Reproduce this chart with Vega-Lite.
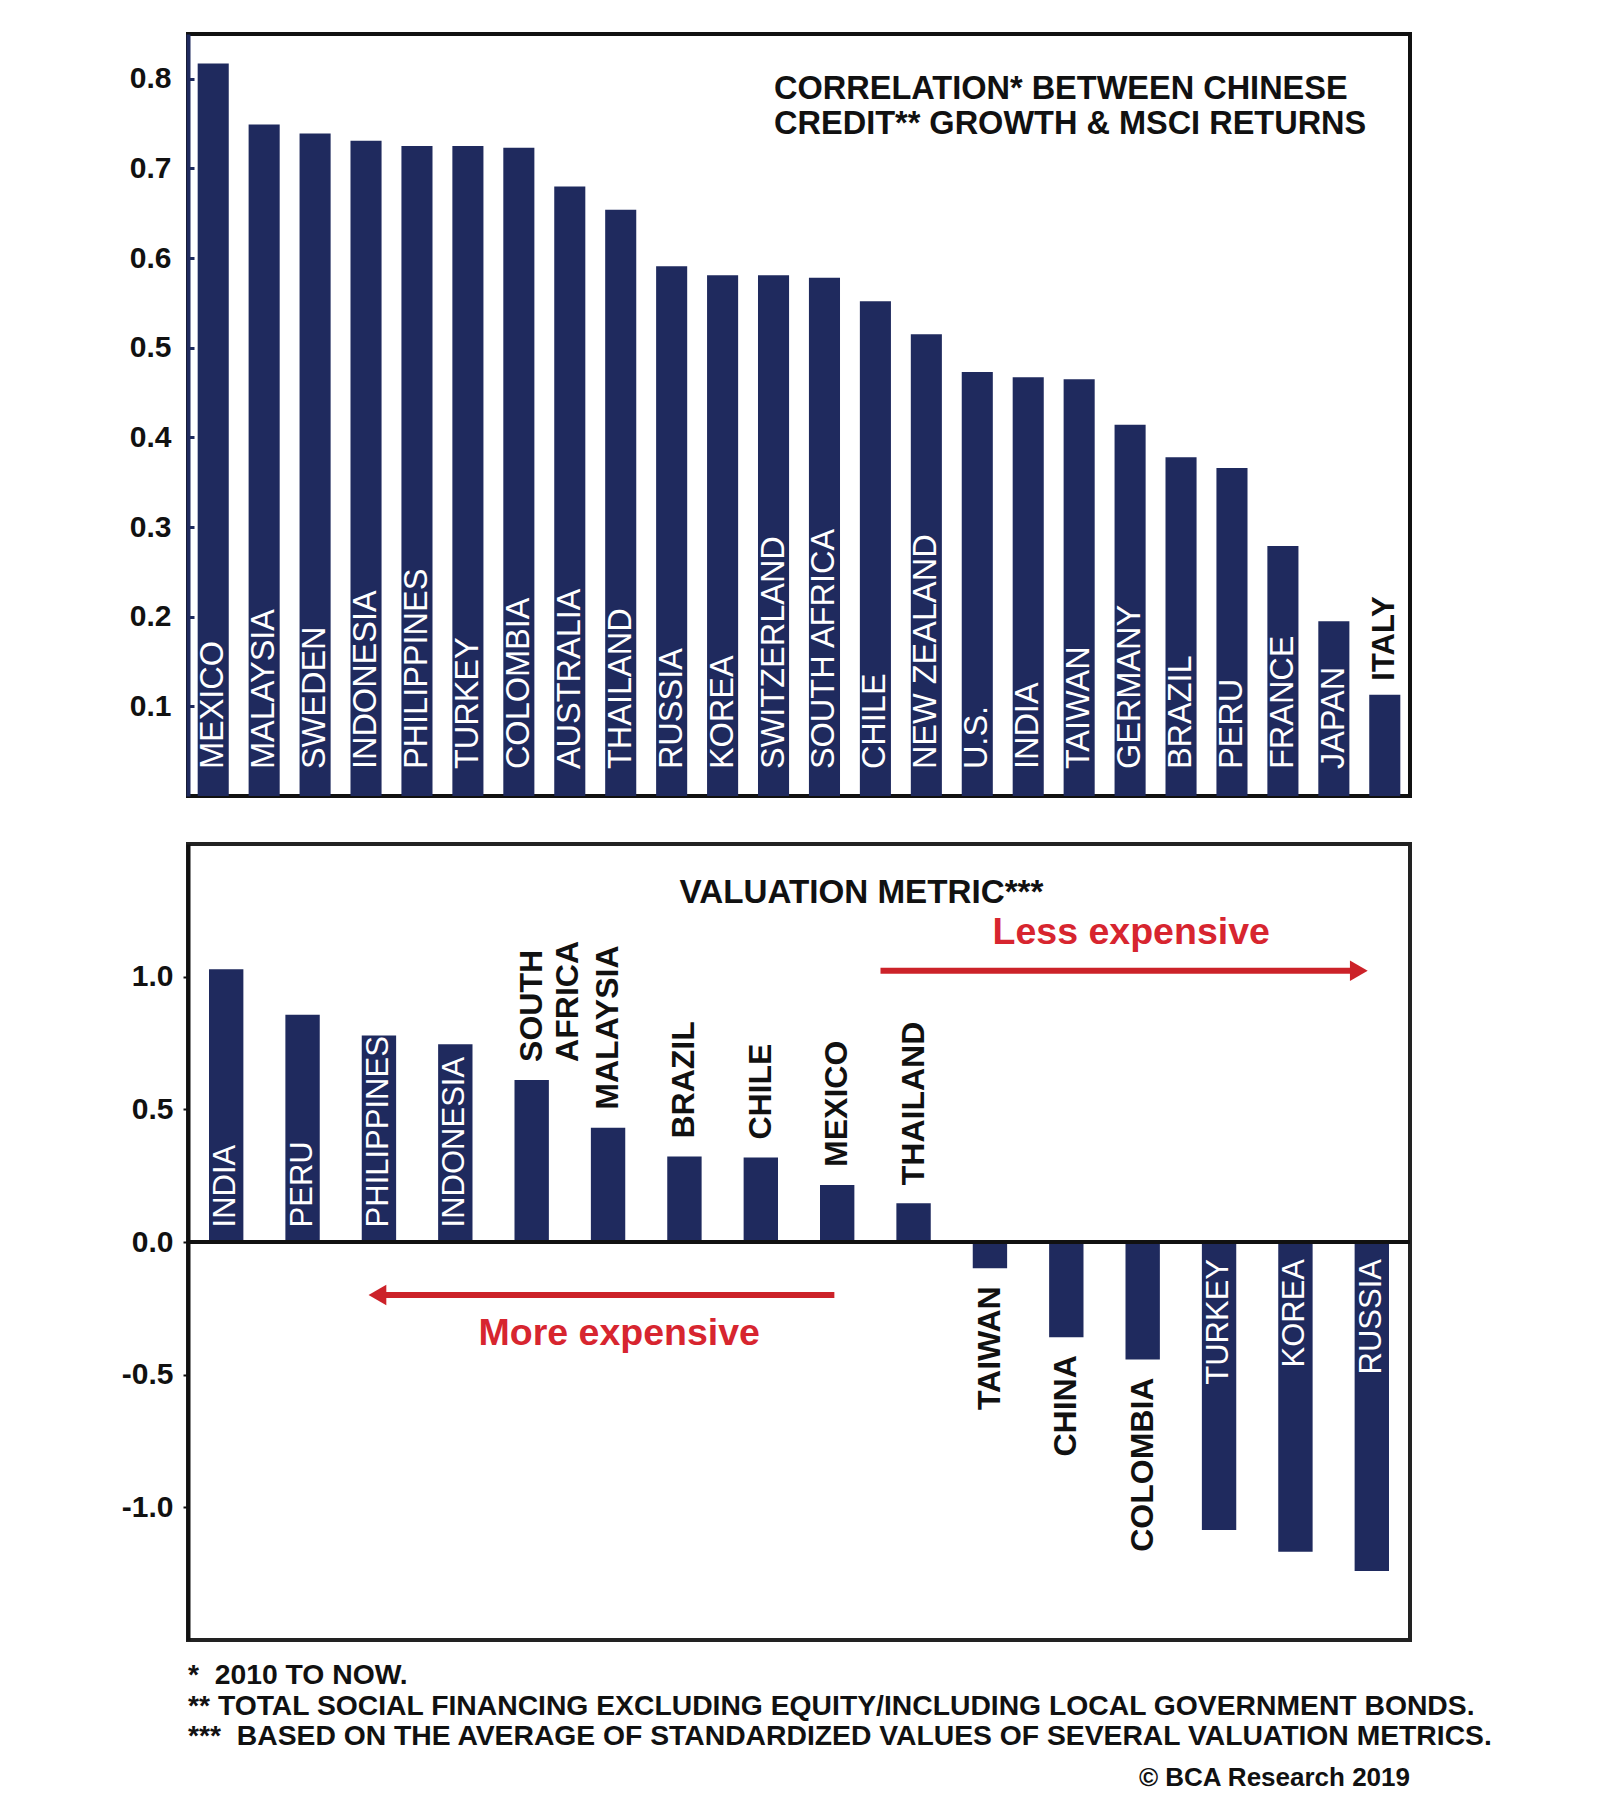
{
  "$schema": "https://vega.github.io/schema/vega-lite/v6.json",
  "usermeta": {"embedOptions": {"actions": false}},
  "background": "white",
  "padding": {"left": 119, "top": 32, "right": 5, "bottom": 5},
  "spacing": 44,
  "config": {
    "font": "Liberation Sans",
    "view": {"stroke": null},
    "axis": {"labelFont": "Liberation Sans", "titleFont": "Liberation Sans"},
    "text": {"font": "Liberation Sans"}
  },
  "datasets": {
    "corr": [
      {"country": "MEXICO", "corr": 0.817},
      {"country": "MALAYSIA", "corr": 0.749},
      {"country": "SWEDEN", "corr": 0.739},
      {"country": "INDONESIA", "corr": 0.731},
      {"country": "PHILIPPINES", "corr": 0.725},
      {"country": "TURKEY", "corr": 0.725},
      {"country": "COLOMBIA", "corr": 0.723},
      {"country": "AUSTRALIA", "corr": 0.680},
      {"country": "THAILAND", "corr": 0.654},
      {"country": "RUSSIA", "corr": 0.591},
      {"country": "KOREA", "corr": 0.581},
      {"country": "SWITZERLAND", "corr": 0.581},
      {"country": "SOUTH AFRICA", "corr": 0.578},
      {"country": "CHILE", "corr": 0.552},
      {"country": "NEW ZEALAND", "corr": 0.515},
      {"country": "U.S.", "corr": 0.473},
      {"country": "INDIA", "corr": 0.467},
      {"country": "TAIWAN", "corr": 0.465},
      {"country": "GERMANY", "corr": 0.414},
      {"country": "BRAZIL", "corr": 0.378},
      {"country": "PERU", "corr": 0.366},
      {"country": "FRANCE", "corr": 0.279},
      {"country": "JAPAN", "corr": 0.195},
      {"country": "ITALY", "corr": 0.113}
    ],
    "val": [
      {"country": "INDIA", "value": 1.028},
      {"country": "PERU", "value": 0.856},
      {"country": "PHILIPPINES", "value": 0.778},
      {"country": "INDONESIA", "value": 0.745},
      {"country": "SOUTH AFRICA", "value": 0.611},
      {"country": "MALAYSIA", "value": 0.431},
      {"country": "BRAZIL", "value": 0.322},
      {"country": "CHILE", "value": 0.318},
      {"country": "MEXICO", "value": 0.215},
      {"country": "THAILAND", "value": 0.146},
      {"country": "TAIWAN", "value": -0.099},
      {"country": "CHINA", "value": -0.359},
      {"country": "COLOMBIA", "value": -0.443},
      {"country": "TURKEY", "value": -1.085},
      {"country": "KOREA", "value": -1.167},
      {"country": "RUSSIA", "value": -1.24}
    ]
  },
  "vconcat": [
    {
      "width": 1222,
      "height": 762,
      "view": {"stroke": "#111111", "strokeWidth": 4},
      "resolve": {"scale": {"x": "independent"}},
      "layer": [
        {
          "data": {"name": "corr"},
          "encoding": {
            "x": {"field": "country", "type": "nominal", "sort": null,
                  "scale": {"paddingInner": 0.39, "paddingOuter": 0.19}, "axis": null}
          },
          "layer": [
            {
              "mark": {"type": "bar", "color": "#1f2a5e"},
              "encoding": {
                "y": {"field": "corr", "type": "quantitative",
                      "scale": {"domain": [0, 0.85], "nice": false, "zero": false},
                      "axis": {"values": [0.1, 0.2, 0.3, 0.4, 0.5, 0.6, 0.7, 0.8], "format": ".1f",
                               "title": null, "grid": false,
                               "domainColor": "#1f2a5e", "domainWidth": 4,
                               "tickColor": "#1f2a5e", "tickWidth": 3, "tickSize": -6,
                               "labelPadding": 23, "labelFontSize": 30, "labelFontWeight": "bold",
                               "labelColor": "#111111"}}
              }
            },
            {
              "transform": [{"filter": "datum.corr >= 0.15"}],
              "mark": {"type": "text", "angle": 270, "align": "left", "baseline": "middle",
                       "color": "white", "fontSize": 32.5},
              "encoding": {"y": {"datum": 0.03}, "text": {"field": "country"}}
            },
            {
              "transform": [{"filter": "datum.corr < 0.15"}],
              "mark": {"type": "text", "angle": 270, "align": "left", "baseline": "middle",
                       "dx": 14, "color": "#111111", "fontSize": 31, "fontWeight": "bold"},
              "encoding": {"y": {"field": "corr", "type": "quantitative"}, "text": {"field": "country"}}
            }
          ]
        },
        {
          "data": {"values": [{}]},
          "mark": {"type": "text", "text": ["CORRELATION* BETWEEN CHINESE", "CREDIT** GROWTH & MSCI RETURNS"],
                   "align": "left", "baseline": "alphabetic", "fontSize": 32.5, "fontWeight": "bold",
                   "lineHeight": 35, "color": "#111111"},
          "encoding": {
            "x": {"datum": 11.51, "type": "quantitative",
                  "scale": {"domain": [0, 24], "nice": false, "zero": false}, "axis": null},
            "y": {"datum": 0.777}
          }
        }
      ]
    },
    {
      "width": 1222,
      "height": 796,
      "view": {"stroke": "#222222", "strokeWidth": 4},
      "resolve": {"scale": {"x": "independent"}},
      "layer": [
        {
          "data": {"name": "val"},
          "encoding": {
            "x": {"field": "country", "type": "nominal", "sort": null,
                  "scale": {"paddingInner": 0.55, "paddingOuter": 0.275}, "axis": null}
          },
          "layer": [
            {
              "mark": {"type": "bar", "color": "#1f2a5e"},
              "encoding": {
                "y": {"field": "value", "type": "quantitative",
                      "scale": {"domain": [-1.5, 1.5], "nice": false, "zero": false},
                      "axis": {"values": [-1, -0.5, 0, 0.5, 1], "format": ".1f",
                               "labelExpr": "replace(datum.label, '\u2212', '-')",
                               "title": null, "grid": false,
                               "domainColor": "#111111", "domainWidth": 4,
                               "tickColor": "#111111", "tickWidth": 2, "tickSize": 5,
                               "labelPadding": 10, "labelFontSize": 30, "labelFontWeight": "bold",
                               "labelColor": "#111111"}}
              }
            },
            {
              "transform": [{"filter": "datum.value >= 0.7"}],
              "mark": {"type": "text", "angle": 270, "align": "left", "baseline": "middle",
                       "color": "white", "fontSize": 31},
              "encoding": {"y": {"datum": 0.055}, "text": {"field": "country"}}
            },
            {
              "transform": [{"filter": "datum.value > 0 && datum.value < 0.7"}],
              "mark": {"type": "text", "angle": 270, "align": "left", "baseline": "middle",
                       "dx": 18, "color": "#111111", "fontSize": 32, "fontWeight": "bold",
                       "lineBreak": " ", "lineHeight": 36},
              "encoding": {"y": {"field": "value", "type": "quantitative"}, "text": {"field": "country"}}
            },
            {
              "transform": [{"filter": "datum.value < 0 && datum.value > -0.7"}],
              "mark": {"type": "text", "angle": 270, "align": "right", "baseline": "middle",
                       "dx": -18, "color": "#111111", "fontSize": 32, "fontWeight": "bold"},
              "encoding": {"y": {"field": "value", "type": "quantitative"}, "text": {"field": "country"}}
            },
            {
              "transform": [{"filter": "datum.value <= -0.7"}],
              "mark": {"type": "text", "angle": 270, "align": "right", "baseline": "middle",
                       "color": "white", "fontSize": 31},
              "encoding": {"y": {"datum": -0.064}, "text": {"field": "country"}}
            }
          ]
        },
        {
          "data": {"values": [{}]},
          "encoding": {
            "x": {"datum": 0, "type": "quantitative",
                  "scale": {"domain": [0, 16], "nice": false, "zero": false}, "axis": null}
          },
          "layer": [
            {
              "mark": {"type": "rule", "color": "#111111", "strokeWidth": 4},
              "encoding": {"x": null, "y": {"datum": 0}}
            },
            {
              "mark": {"type": "text", "text": "VALUATION METRIC***", "align": "center", "baseline": "alphabetic",
                       "fontSize": 33.2, "fontWeight": "bold", "color": "#111111"},
              "encoding": {"x": {"datum": 8.818, "type": "quantitative"}, "y": {"datum": 1.278}}
            },
            {
              "mark": {"type": "text", "text": "Less expensive", "align": "center", "baseline": "alphabetic",
                       "fontSize": 37.5, "fontWeight": "bold", "color": "#d7252f"},
              "encoding": {"x": {"datum": 12.35, "type": "quantitative"}, "y": {"datum": 1.124}}
            },
            {
              "mark": {"type": "text", "text": "More expensive", "align": "center", "baseline": "alphabetic",
                       "fontSize": 37.5, "fontWeight": "bold", "color": "#d7252f"},
              "encoding": {"x": {"datum": 5.646, "type": "quantitative"}, "y": {"datum": -0.388}}
            },
            {
              "mark": {"type": "rule", "color": "#cc2229", "strokeWidth": 6},
              "encoding": {"x": {"datum": 9.067, "type": "quantitative"}, "x2": {"datum": 15.26}, "y": {"datum": 1.022}}
            },
            {
              "mark": {"type": "point", "shape": "triangle-right", "filled": true, "size": 420,
                       "color": "#cc2229", "opacity": 1, "strokeWidth": 0},
              "encoding": {"x": {"datum": 15.33, "type": "quantitative"}, "y": {"datum": 1.022}}
            },
            {
              "mark": {"type": "rule", "color": "#cc2229", "strokeWidth": 6},
              "encoding": {"x": {"datum": 2.55, "type": "quantitative"}, "x2": {"datum": 8.463}, "y": {"datum": -0.2}}
            },
            {
              "mark": {"type": "point", "shape": "triangle-left", "filled": true, "size": 420,
                       "color": "#cc2229", "opacity": 1, "strokeWidth": 0},
              "encoding": {"x": {"datum": 2.48, "type": "quantitative"}, "y": {"datum": -0.2}}
            },
            {
              "mark": {"type": "text",
                       "text": ["*\u00a0 2010 TO NOW.", "** TOTAL SOCIAL FINANCING EXCLUDING EQUITY/INCLUDING LOCAL GOVERNMENT BONDS.", "***\u00a0 BASED ON THE AVERAGE OF STANDARDIZED VALUES OF SEVERAL VALUATION METRICS."],
                       "align": "left", "baseline": "alphabetic", "fontSize": 28.3, "fontWeight": "bold",
                       "lineHeight": 30.5, "color": "#111111"},
              "encoding": {"x": {"datum": 0, "type": "quantitative"}, "y": {"datum": -1.667}}
            },
            {
              "mark": {"type": "text", "text": "\u00a9 BCA Research 2019", "align": "right", "baseline": "alphabetic",
                       "fontSize": 26, "fontWeight": "bold", "color": "#111111"},
              "encoding": {"x": {"datum": 16, "type": "quantitative"}, "y": {"datum": -2.05}}
            }
          ]
        }
      ]
    }
  ]
}
